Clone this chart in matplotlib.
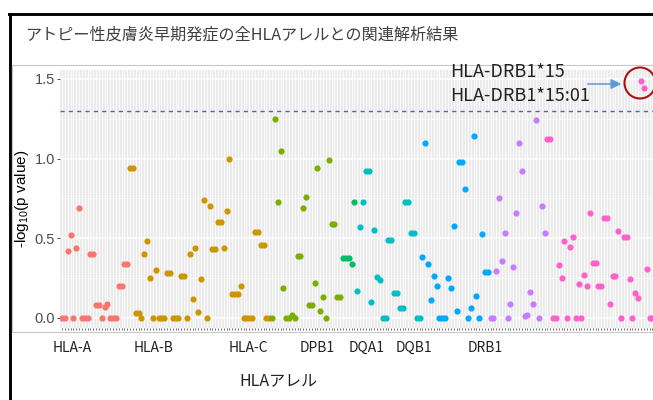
import numpy as np
import matplotlib
matplotlib.use('Agg')
import matplotlib.pyplot as plt
from matplotlib.lines import Line2D
from matplotlib.patches import Circle

W, H = 653, 400

# -log10(p) per allele, in plotting order within each gene
hla_a = [0, 0, 0.42, 0.52, 0, 0.44, 0.69, 0, 0, 0, 0.40, 0.40, 0.08, 0.08, 0,
         0.07, 0.09, 0, 0, 0, 0.20, 0.20, 0.34, 0.34]
hla_b = [0.94, 0.94, 0.03, 0.03, 0, 0.40, 0.48, 0.25, 0, 0.30, 0, 0, 0, 0.285,
         0.285, 0, 0, 0, 0.265, 0.265, 0, 0.40, 0.12, 0.44, 0.04, 0.245, 0.74, 0,
         0.70, 0.43, 0.43, 0.60, 0.60, 0.44, 0.67, 1.00, 0.15, 0.15, 0.15, 0.20,
         0, 0, 0, 0, 0.54, 0.54, 0.46, 0.46, 0, 0]
hla_c = [0, 1.25, 0.73, 1.05, 0.19, 0, 0, 0.02, 0, 0.39, 0.39, 0.69, 0.76, 0.08,
         0.08, 0.22, 0.94, 0.045, 0.13, 0, 0.99, 0.59, 0.59, 0.13, 0.13]
hla_dpa1 = [0.375, 0.375, 0.375, 0.34, 0.73]
hla_dpb1 = [0.17, 0.57, 0.725, 0.925, 0.925, 0.10, 0.55, 0.255, 0.24, 0, 0, 0.49,
            0.49, 0.155, 0.155, 0.06, 0.06, 0.73, 0.73, 0.535, 0.535, 0, 0]
hla_dqa1 = [0.38, 1.10, 0.34, 0.11, 0.265, 0.20, 0, 0, 0, 0.25, 0.185, 0.58,
            0.045, 0.98, 0.98, 0.81, 0, 0.06, 1.14, 0.135, 0, 0.53, 0.29, 0.29]
hla_dqb1 = [0, 0, 0.295, 0.75, 0.355, 0.535, 0, 0.085, 0.32, 0.66, 1.10, 0.925,
            0.01, 0.02, 0.16, 0.09, 1.24, 0, 0.70, 0.535]
hla_drb1 = [1.12, 1.12, 0, 0, 0.33, 0.25, 0.48, 0, 0.445, 0.51, 0, 0.215, 0,
            0.27, 0.20, 0.66, 0.345, 0.345, 0.20, 0.20, 0.625, 0.625, 0.085,
            0.265, 0.265, 0.545, 0, 0.51, 0.51, 0.245, 0, 0.155, 0.125, 1.49,
            1.44, 0.31, 0, 0]

gene_vals = [hla_a, hla_b, hla_c, hla_dpa1, hla_dpb1, hla_dqa1, hla_dqb1, hla_drb1]
gene_colors = ['#F8766D', '#CD9600', '#7CAE00', '#00BE67',
               '#00BFC4', '#00A9FF', '#C77CFF', '#FF61CC']
gene_labels = ['HLA-A', 'HLA-B', 'HLA-C', 'DPB1', 'DQA1', 'DQB1', 'DRB1']
label_px = [72, 154, 248, 317, 367, 414, 485]

title = 'アトピー性皮膚炎早期発症の全HLAアレルとの関連解析結果'
threshold = -np.log10(0.05)

plt.rcParams['font.family'] = ['Liberation Sans', 'DejaVu Sans']
plt.rcParams['mathtext.fontset'] = 'custom'
plt.rcParams['mathtext.rm'] = 'Liberation Sans'
jp = ['Noto Sans CJK JP', 'DejaVu Sans']

fig = plt.figure(figsize=(W / 100, H / 100), dpi=100)
fig.patch.set_facecolor('white')

def fx(x):
    return x / W

def fy(y):
    return 1 - y / H

# outer black frame (cut off on right/bottom) and light grey plot border
fig.add_artist(Line2D([fx(9.5), fx(9.5)], [fy(13.5), fy(400)], color='black', lw=2.1))
fig.add_artist(Line2D([fx(8.5), fx(653)], [fy(14.3), fy(14.3)], color='black', lw=2.1))
fig.add_artist(Line2D([fx(12.5), fx(12.5)], [fy(65), fy(332)], color='#C8C8C8', lw=0.8))
fig.add_artist(Line2D([fx(12.5), fx(653)], [fy(65), fy(65)], color='#C8C8C8', lw=0.8))
fig.add_artist(Line2D([fx(12.5), fx(653)], [fy(332), fy(332)], color='#C8C8C8', lw=0.8))

ax = fig.add_axes([fx(60), fy(328), fx(653) - fx(60), (328 - 70) / H])
ax.set_facecolor('#EBEBEB')

start = 0
for vals, c in zip(gene_vals, gene_colors):
    xs = np.arange(start, start + len(vals))
    ax.scatter(xs, vals, s=20, color=c, lw=0, zorder=3)
    start += len(vals)
n = start

# pixel spacing so that the highlighted DRB1*15 point lands near x=641
spacing = (641 - 62) / (n - 5)
ax.set_xlim(-2 / spacing, (653 - 62) / spacing)
ax.set_ylim(-0.063, 1.556)

ax.set_xticks(np.arange(n))
ax.set_xticklabels([])
ax.set_yticks([0, 0.5, 1.0, 1.5])
ax.set_yticklabels(['0.0', '0.5', '1.0', '1.5'])
ax.set_yticks([0.25, 0.75, 1.25], minor=True)
ax.grid(axis='x', which='major', color='white', lw=0.55)
ax.grid(axis='y', which='major', color='white', lw=1.1)
ax.grid(axis='y', which='minor', color='white', lw=0.5)
ax.set_axisbelow(True)
ax.tick_params(axis='x', which='major', length=1.6, width=0.5, color='#333333')
ax.tick_params(axis='y', which='major', length=2.5, width=0.6, color='#333333',
               labelsize=10.5, labelcolor='#4D4D4D', pad=1)
ax.tick_params(axis='y', which='minor', length=0)
for s in ax.spines.values():
    s.set_visible(False)

ax.axhline(threshold, color='#5A5AD6', lw=1.0, ls=(0, (3, 3)), zorder=2)

fig.text(fx(22), fy(199), r'-log$_{\mathregular{10}}$(p value)', rotation=90,
         ha='center', va='center', fontsize=11, color='black')

fig.text(fx(25), fy(35), title, family=jp, fontsize=11.6, color='#404040',
         ha='left', va='center')

for lab, xp in zip(gene_labels, label_px):
    fig.text(fx(xp), fy(348), lab, family=jp, fontsize=10, color='#222222',
             ha='center', va='center')
fig.text(fx(278), fy(381), 'HLAアレル', family=jp, fontsize=11.5, color='#222222',
         ha='center', va='center')

# annotation for top hits
fig.text(fx(450), fy(72), 'HLA-DRB1*15', family=jp, fontsize=13, color='#222222',
         ha='left', va='center')
fig.text(fx(450), fy(96), 'HLA-DRB1*15:01', family=jp, fontsize=13, color='#222222',
         ha='left', va='center')
ax.annotate('', xy=(624, H - 84), xytext=(585, H - 84),
            xycoords='figure pixels', textcoords='figure pixels',
            arrowprops=dict(arrowstyle='-|>,head_length=0.6,head_width=0.3',
                            color='#5B9BD5', lw=1.1))
fig.add_artist(Circle((6.40, (H - 83) / 100), 0.155, transform=fig.dpi_scale_trans,
                      fill=False, edgecolor='#B01010', lw=1.5))

fig.savefig('out.png', dpi=100, facecolor='white')
